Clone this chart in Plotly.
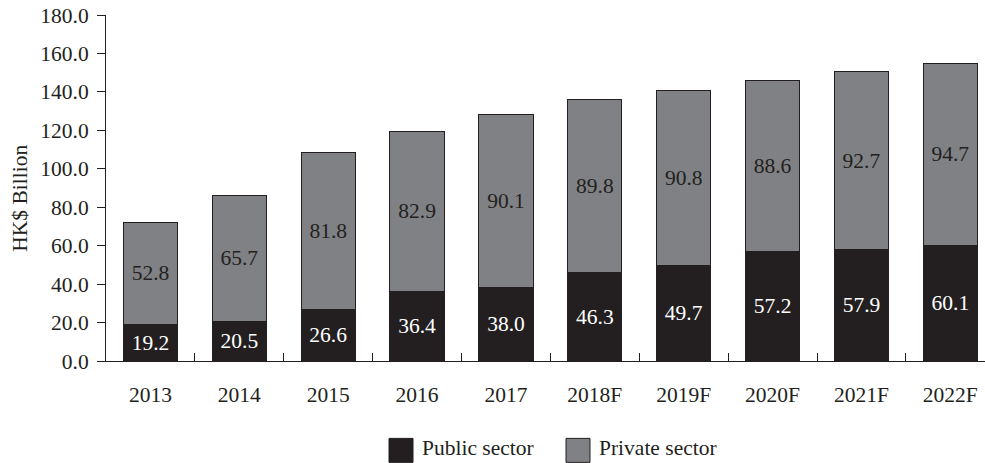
import plotly.graph_objects as go

years = ["2013", "2014", "2015", "2016", "2017", "2018F", "2019F", "2020F", "2021F", "2022F"]
public_sector = [19.2, 20.5, 26.6, 36.4, 38.0, 46.3, 49.7, 57.2, 57.9, 60.1]
private_sector = [52.8, 65.7, 81.8, 82.9, 90.1, 89.8, 90.8, 88.6, 92.7, 94.7]
y_ticks = [0, 20, 40, 60, 80, 100, 120, 140, 160, 180]

DARK = "#231f20"
GREY = "#808184"
FONT = "Liberation Serif"
FS = 21.5

W, H = 985, 463
ML, MR, MT, MB = 106, 0, 15, 101.5
PW, PH = W - ML - MR, H - MT - MB


def px_x(x):
    return (x - ML) / PW


def px_y(y):
    return (H - MB - y) / PH


def label_font(color):
    return dict(color=color, size=FS, family=FONT)


fig = go.Figure()
fig.add_trace(go.Bar(
    x=years, y=public_sector, name="Public sector",
    marker=dict(color=DARK, line=dict(color=DARK, width=1)),
    texttemplate="%{y:.1f}", textposition="inside", insidetextanchor="middle",
    textangle=0, constraintext="none",
    textfont=label_font("white"), insidetextfont=label_font("white"),
    showlegend=False,
))
fig.add_trace(go.Bar(
    x=years, y=private_sector, name="Private sector",
    marker=dict(color=GREY, line=dict(color=DARK, width=1)),
    texttemplate="%{y:.1f}", textposition="inside", insidetextanchor="middle",
    textangle=0, constraintext="none",
    textfont=label_font(DARK), insidetextfont=label_font(DARK),
    showlegend=False,
))

# legend drawn as swatches + labels below the axis
legend_items = [
    (389, 413, 420, DARK, "Public sector"),
    (566, 590, 597, GREY, "Private sector"),
]
shapes = []
annotations = []
for x0, x1, tx, col, label in legend_items:
    shapes.append(dict(
        type="rect", xref="paper", yref="paper",
        x0=px_x(x0), x1=px_x(x1), y0=px_y(463), y1=px_y(439),
        fillcolor=col, line=dict(color=DARK, width=1), layer="above",
    ))
    annotations.append(dict(
        xref="paper", yref="paper", x=px_x(tx), y=px_y(449),
        text=label, showarrow=False, xanchor="left", yanchor="middle",
        font=dict(family=FONT, size=FS, color=DARK),
    ))

annotations.append(dict(
    xref="paper", yref="paper", x=px_x(20), y=px_y(199),
    text="HK$ Billion", showarrow=False, textangle=-90,
    xanchor="center", yanchor="middle",
    font=dict(family=FONT, size=FS, color=DARK),
))

fig.update_layout(
    width=W, height=H,
    margin=dict(l=ML, r=MR, t=MT, b=MB, pad=0),
    barmode="stack", bargap=0.39,
    plot_bgcolor="white", paper_bgcolor="white",
    font=dict(family=FONT, size=FS, color=DARK),
    uniformtext=dict(mode=False),
    shapes=shapes, annotations=annotations,
    xaxis=dict(
        type="category", range=[-0.5, 9.39],
        showline=True, linecolor=DARK, linewidth=1,
        ticks="inside", tickson="boundaries", ticklen=8, tickcolor=DARK,
        showgrid=False, zeroline=False,
        tickfont=dict(family=FONT, size=FS, color=DARK),
        ticklabelstandoff=14,
    ),
    yaxis=dict(
        range=[0, 180], tickvals=y_ticks, tickformat=".1f",
        showline=True, linecolor=DARK, linewidth=1,
        ticks="outside", ticklen=8, tickcolor=DARK,
        showgrid=False, zeroline=False,
        tickfont=dict(family=FONT, size=FS, color=DARK),
        ticklabelstandoff=4,
    ),
)

fig.write_html("out.html")
